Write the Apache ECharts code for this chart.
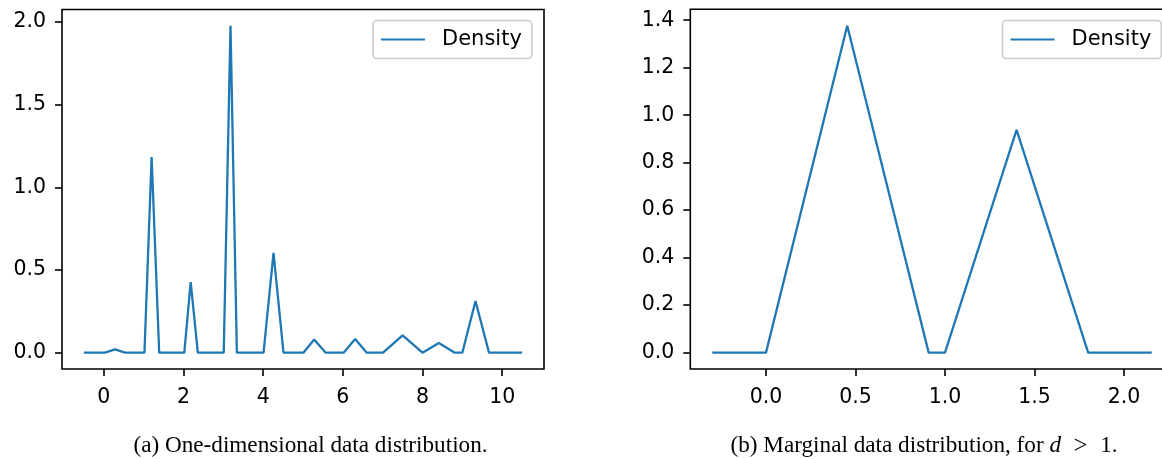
<!DOCTYPE html>
<html>
<head>
<meta charset="utf-8">
<script src="https://cdn.jsdelivr.net/npm/echarts@6/dist/echarts.min.js"></script>
<style>
  html, body { margin: 0; padding: 0; background: #fff; overflow: hidden; }
  #chart { width: 1180px; height: 459px; }
</style>
</head>
<body>
<div id="chart"></div>
<script>
// Panel (a): one-dimensional density
const densityAX = [-0.5, 0.03, 0.28, 0.53, 1.02, 1.2, 1.39, 2.02, 2.18, 2.36, 3.01, 3.18, 3.34,
  4.01, 4.26, 4.51, 5.01, 5.28, 5.57, 6.02, 6.31, 6.6, 7.01, 7.5, 8.0, 8.41, 8.81, 9.0, 9.33, 9.67, 10.5];
const densityAY = [0, 0, 0.02, 0, 0, 1.183, 0, 0, 0.427, 0, 0, 1.976, 0,
  0, 0.603, 0, 0, 0.079, 0, 0, 0.082, 0, 0, 0.105, 0, 0.058, 0, 0, 0.312, 0, 0];
const ticksAX = [0, 2, 4, 6, 8, 10];
const ticksAY = [0, 0.5, 1.0, 1.5, 2.0];

// Panel (b): marginal density
const densityBX = [-0.3, 0.0, 0.454, 0.909, 1.0, 1.4, 1.8, 2.155];
const densityBY = [0, 0, 1.377, 0, 0, 0.938, 0, 0];
const ticksBX = [0, 0.5, 1.0, 1.5, 2.0];
const ticksBY = [0, 0.2, 0.4, 0.6, 0.8, 1.0, 1.2, 1.4];

const seriesName = 'Density';
const captionA = '(a) One-dimensional data distribution.';
const captionB = '(b) Marginal data distribution, for {i|d}{m|\u2002>\u2002}1.';

const LINE = '#1f77b4';
const FONT = '"DejaVu Sans"';
const SERIF = '"Liberation Serif"';

function zip(xs, ys) { return xs.map((x, i) => [x, ys[i]]); }

function axisCommon(ticks, fmt, margin) {
  return {
    axisLine: { show: false, onZero: false },
    splitLine: { show: false },
    axisTick: { show: true, inside: false, length: 7, customValues: ticks,
      lineStyle: { color: '#000', width: 1.6 } },
    axisLabel: { show: true, customValues: ticks, margin: margin, formatter: fmt,
      color: '#000', fontFamily: FONT, fontSize: 20.5 }
  };
}

const fmtInt = v => String(Math.round(v));
const fmt1 = v => Number(v).toFixed(1);

const legendCommon = {
  data: [seriesName],
  orient: 'horizontal',
  icon: 'rect',
  itemWidth: 44,
  itemHeight: 2.2,
  padding: [8, 10, 8, 8],
  borderColor: '#cccccc',
  borderWidth: 1.6,
  borderRadius: 4,
  backgroundColor: 'rgba(255,255,255,0.8)',
  selectedMode: false,
  textStyle: { color: '#000', fontFamily: FONT, fontSize: 21, lineHeight: 22, padding: [0, 0, 0, 12] }
};

const chart = echarts.init(document.getElementById('chart'), null, { renderer: 'canvas' });

chart.setOption({
  animation: false,
  backgroundColor: '#fff',
  grid: [
    { left: 62, top: 9.5, width: 482, height: 359.5, show: true,
      borderColor: '#000', borderWidth: 1.6, backgroundColor: 'transparent' },
    { left: 690.3, top: 9.3, width: 483.4, height: 359.7, show: true,
      borderColor: '#000', borderWidth: 1.6, backgroundColor: 'transparent' }
  ],
  xAxis: [
    Object.assign({ type: 'value', gridIndex: 0, min: -1.05, max: 11.05 },
      axisCommon(ticksAX, fmtInt, 18)),
    Object.assign({ type: 'value', gridIndex: 1, min: -0.4228, max: 2.2778 },
      axisCommon(ticksBX, fmt1, 18))
  ],
  yAxis: [
    Object.assign({ type: 'value', gridIndex: 0, min: -0.0988, max: 2.0748 },
      axisCommon(ticksAY, fmt1, 16)),
    Object.assign({ type: 'value', gridIndex: 1, min: -0.0689, max: 1.4459 },
      axisCommon(ticksBY, fmt1, 16))
  ],
  legend: [
    Object.assign({ left: 373, top: 20.5 }, legendCommon),
    Object.assign({ left: 1002.5, top: 20.5 }, legendCommon)
  ],
  series: [
    { type: 'line', name: seriesName, xAxisIndex: 0, yAxisIndex: 0,
      data: zip(densityAX, densityAY), showSymbol: false, symbol: 'none',
      lineStyle: { color: LINE, width: 2.3 }, itemStyle: { color: LINE } },
    { type: 'line', name: seriesName, xAxisIndex: 1, yAxisIndex: 1,
      data: zip(densityBX, densityBY), showSymbol: false, symbol: 'none',
      lineStyle: { color: LINE, width: 2.3 }, itemStyle: { color: LINE } }
  ],
  graphic: [
    { type: 'text', x: 310.5, y: 446,
      style: { text: captionA, fill: '#000', font: '23.2px ' + SERIF,
        align: 'center', verticalAlign: 'middle' } },
    { type: 'text', x: 924, y: 446,
      style: { text: captionB, fill: '#000', font: '23.2px ' + SERIF,
        align: 'center', verticalAlign: 'middle',
        rich: {
          i: { fontFamily: SERIF, fontStyle: 'italic', fontSize: 23.2, fill: '#000' },
          m: { fontFamily: SERIF, fontSize: 25, fill: '#000' }
        } } }
  ]
});
</script>
</body>
</html>
